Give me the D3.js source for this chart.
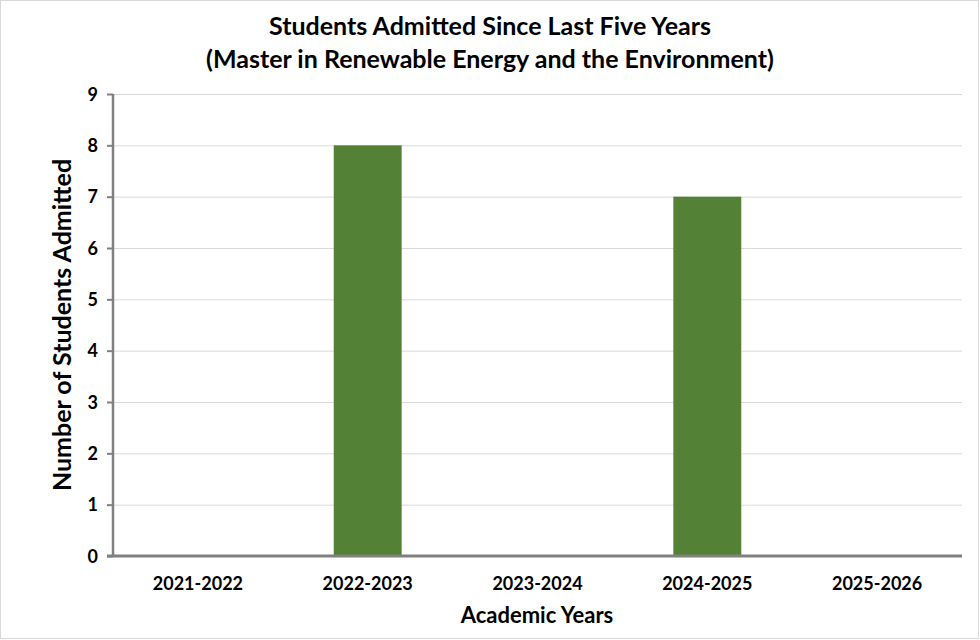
<!DOCTYPE html>
<html><head><meta charset="utf-8">
<script src="https://cdn.jsdelivr.net/npm/d3@7"></script>
<style>body{margin:0;background:#fff}svg{display:block}text{font-family:Lato,"Open Sans",sans-serif;font-weight:bold;fill:#000}</style>
</head><body><svg id="c" width="980" height="640"></svg>
<script>
const categories = ["2021-2022","2022-2023","2023-2024","2024-2025","2025-2026"];
const values = [0,8,0,7,0];
const yTicks = [0,1,2,3,4,5,6,7,8,9];
const titleLines = ["Students Admitted Since Last Five Years","(Master in Renewable Energy and the Environment)"];
const xTitle = "Academic Years";
const yTitle = "Number of Students Admitted";

const svg = d3.select("#c");
const W=980,H=640;
const m={left:113,right:18,top:94,bottom:84};
svg.append("rect").attr("x",0.5).attr("y",0.5).attr("width",W-2).attr("height",H-2)
  .attr("fill","#fff").attr("stroke","#d9d9d9");

const x=d3.scaleBand().domain(categories).range([m.left,W-m.right]).paddingInner(0.6).paddingOuter(0.3);
const y=d3.scaleLinear().domain([0,9]).range([H-m.bottom,m.top]);

// gridlines
svg.append("g").selectAll("line").data(yTicks.filter(d=>d>0)).join("line")
  .attr("x1",m.left).attr("x2",W-m.right).attr("y1",d=>y(d)+0.5).attr("y2",d=>y(d)+0.5)
  .attr("stroke","#d9d9d9").attr("stroke-width",1);

// bars
svg.append("g").selectAll("rect").data(values).join("rect")
  .attr("x",(d,i)=>x(categories[i])).attr("width",x.bandwidth())
  .attr("y",d=>y(d)).attr("height",d=>y(0)-y(d)).attr("fill","#538135");

// y axis
const ya=svg.append("g").attr("transform",`translate(${m.left},0)`)
  .call(d3.axisLeft(y).tickValues(yTicks).tickSize(6).tickPadding(9).tickFormat(d3.format("d")));
ya.select(".domain").attr("stroke","#808080").attr("stroke-width",2.5).attr("d",`M0,${y(9)}V${y(0)}`);
ya.selectAll(".tick line").attr("stroke","#808080").attr("stroke-width",2);
ya.selectAll(".tick text").attr("font-size",18).attr("font-family","Lato").attr("font-weight","bold").attr("dy","0.35em");

// x axis
const xa=svg.append("g").attr("transform",`translate(0,${y(0)})`)
  .call(d3.axisBottom(x).tickSize(0).tickPadding(21));
xa.select(".domain").attr("stroke","#808080").attr("stroke-width",3).attr("d",`M${m.left-6},0H${W-m.right}`);
xa.selectAll(".tick text").attr("font-size",18).attr("font-family","Lato").attr("font-weight","bold");

// titles
svg.append("text").attr("x",490).attr("y",35).attr("text-anchor","middle").attr("font-size",25).text(titleLines[0]);
svg.append("text").attr("x",490).attr("y",68).attr("text-anchor","middle").attr("font-size",25).text(titleLines[1]);
svg.append("text").attr("x",537).attr("y",623).attr("text-anchor","middle").attr("font-size",22).text(xTitle);
svg.append("text").attr("transform",`translate(71,${(y(0)+y(9))/2}) rotate(-90)`).attr("text-anchor","middle").attr("font-size",25).text(yTitle);
</script></body></html>
